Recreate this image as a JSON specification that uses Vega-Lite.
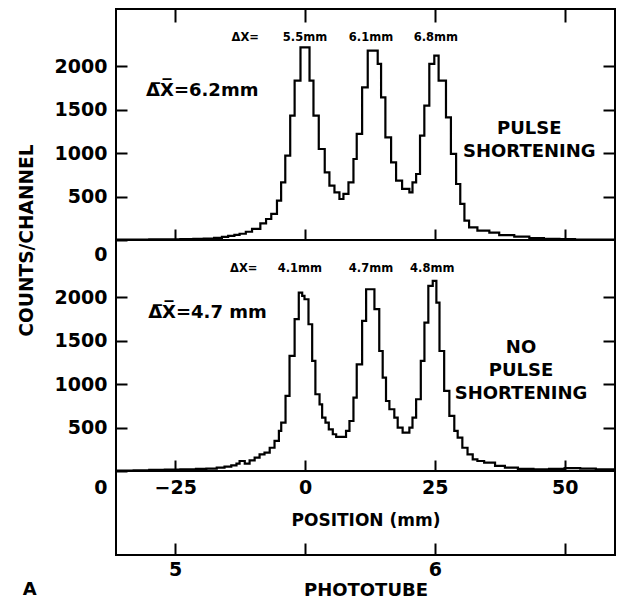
{
  "$schema": "https://vega.github.io/schema/vega-lite/v6.json",
  "background": "white",
  "padding": {"left": 16, "top": 7, "right": 0, "bottom": 0},
  "config": {
    "font": "DejaVu Sans",
    "view": {"stroke": "black", "strokeWidth": 2},
    "axis": {"domain": false, "ticks": true, "tickOpacity": 1, "zindex": 1, "tickColor": "black", "tickWidth": 2, "labelColor": "black", "labelFont": "DejaVu Sans", "labelFontWeight": "bold", "labelFontSize": 19, "titleFont": "DejaVu Sans", "titleFontWeight": "bold", "titleColor": "black", "grid": false},
    "text": {"font": "DejaVu Sans", "fontWeight": "bold", "color": "black"}
  },
  "datasets": {
    "upper": [
      {"mm": -36.4, "c": 4}, {"mm": -33, "c": 5}, {"mm": -30, "c": 7}, {"mm": -27, "c": 8}, {"mm": -24, "c": 10}, {"mm": -21.5, "c": 13}, {"mm": -19.5, "c": 17}, {"mm": -17.5, "c": 25}, {"mm": -16, "c": 35}, {"mm": -14.8, "c": 48}, {"mm": -13.6, "c": 60}, {"mm": -12.6, "c": 72}, {"mm": -11.4, "c": 95}, {"mm": -10.2, "c": 127}, {"mm": -8.6, "c": 191}, {"mm": -7.5, "c": 242}, {"mm": -6.5, "c": 300}, {"mm": -5.4, "c": 453}, {"mm": -4.6, "c": 664}, {"mm": -3.8, "c": 971}, {"mm": -2.85, "c": 1432}, {"mm": -2.0, "c": 1835}, {"mm": -0.87, "c": 2219}, {"mm": 0.87, "c": 1835}, {"mm": 1.63, "c": 1432}, {"mm": 2.65, "c": 1048}, {"mm": 3.8, "c": 779}, {"mm": 4.7, "c": 626}, {"mm": 5.67, "c": 549}, {"mm": 6.63, "c": 472}, {"mm": 7.4, "c": 530}, {"mm": 8.37, "c": 664}, {"mm": 9.33, "c": 933}, {"mm": 9.96, "c": 1221}, {"mm": 11.0, "c": 1758}, {"mm": 12.08, "c": 2181}, {"mm": 14.0, "c": 2028}, {"mm": 14.65, "c": 1643}, {"mm": 15.48, "c": 1182}, {"mm": 16.58, "c": 894}, {"mm": 17.54, "c": 683}, {"mm": 18.7, "c": 588}, {"mm": 20.1, "c": 549}, {"mm": 20.7, "c": 664}, {"mm": 21.4, "c": 760}, {"mm": 22.15, "c": 1201}, {"mm": 22.98, "c": 1547}, {"mm": 23.94, "c": 2028}, {"mm": 24.9, "c": 2123}, {"mm": 25.73, "c": 1835}, {"mm": 27.15, "c": 1412}, {"mm": 28.1, "c": 991}, {"mm": 29.1, "c": 645}, {"mm": 29.9, "c": 415}, {"mm": 30.7, "c": 222}, {"mm": 31.6, "c": 145}, {"mm": 33.2, "c": 107}, {"mm": 35.5, "c": 84}, {"mm": 37.4, "c": 55}, {"mm": 40.3, "c": 38}, {"mm": 43.2, "c": 21}, {"mm": 46, "c": 13}, {"mm": 49, "c": 9}, {"mm": 52, "c": 6}, {"mm": 56, "c": 4}, {"mm": 59.7, "c": 4}
    ],
    "lower": [
      {"mm": -36.4, "c": 5}, {"mm": -33, "c": 8}, {"mm": -30, "c": 12}, {"mm": -27, "c": 16}, {"mm": -24, "c": 20}, {"mm": -21, "c": 24}, {"mm": -19, "c": 28}, {"mm": -17, "c": 38}, {"mm": -15.5, "c": 50}, {"mm": -14.2, "c": 65}, {"mm": -13.2, "c": 85}, {"mm": -12.6, "c": 115}, {"mm": -11.6, "c": 84}, {"mm": -10.67, "c": 123}, {"mm": -9.7, "c": 153}, {"mm": -8.75, "c": 192}, {"mm": -7.8, "c": 211}, {"mm": -6.8, "c": 268}, {"mm": -5.87, "c": 346}, {"mm": -5.03, "c": 461}, {"mm": -4.58, "c": 556}, {"mm": -3.75, "c": 864}, {"mm": -2.98, "c": 1325}, {"mm": -2.0, "c": 1748}, {"mm": -1.2, "c": 2054}, {"mm": -0.54, "c": 2016}, {"mm": -0.1, "c": 1978}, {"mm": 0.67, "c": 1690}, {"mm": 1.38, "c": 1267}, {"mm": 2.0, "c": 884}, {"mm": 2.8, "c": 768}, {"mm": 3.3, "c": 614}, {"mm": 3.94, "c": 556}, {"mm": 4.58, "c": 480}, {"mm": 5.35, "c": 423}, {"mm": 6.0, "c": 392}, {"mm": 7.9, "c": 461}, {"mm": 8.56, "c": 576}, {"mm": 9.33, "c": 844}, {"mm": 9.96, "c": 1228}, {"mm": 11.0, "c": 1728}, {"mm": 11.77, "c": 2093}, {"mm": 13.37, "c": 1863}, {"mm": 14.3, "c": 1382}, {"mm": 14.96, "c": 1075}, {"mm": 15.6, "c": 806}, {"mm": 16.25, "c": 711}, {"mm": 17.2, "c": 614}, {"mm": 17.85, "c": 499}, {"mm": 18.8, "c": 441}, {"mm": 20.1, "c": 499}, {"mm": 20.7, "c": 614}, {"mm": 21.4, "c": 826}, {"mm": 22.3, "c": 1267}, {"mm": 23.0, "c": 1709}, {"mm": 23.75, "c": 2131}, {"mm": 24.6, "c": 2189}, {"mm": 25.3, "c": 1939}, {"mm": 25.9, "c": 1382}, {"mm": 26.8, "c": 922}, {"mm": 27.8, "c": 634}, {"mm": 28.75, "c": 461}, {"mm": 29.4, "c": 384}, {"mm": 30.3, "c": 268}, {"mm": 31.3, "c": 192}, {"mm": 32.3, "c": 135}, {"mm": 33.2, "c": 115}, {"mm": 34.5, "c": 96}, {"mm": 36.6, "c": 60}, {"mm": 38.5, "c": 40}, {"mm": 41, "c": 25}, {"mm": 44, "c": 19}, {"mm": 47, "c": 25}, {"mm": 50, "c": 32}, {"mm": 53, "c": 28}, {"mm": 56, "c": 20}, {"mm": 59.7, "c": 20}
    ],
    "upperSmall": [
      {"mm": -11.5, "c": 2330, "t": "ΔX="}, {"mm": 0, "c": 2330, "t": "5.5mm"}, {"mm": 12.7, "c": 2330, "t": "6.1mm"}, {"mm": 25.2, "c": 2330, "t": "6.8mm"}
    ],
    "lowerSmall": [
      {"mm": -11.8, "c": 2324, "t": "ΔX="}, {"mm": -1, "c": 2324, "t": "4.1mm"}, {"mm": 12.7, "c": 2324, "t": "4.7mm"}, {"mm": 24.5, "c": 2324, "t": "4.8mm"}
    ],
    "upperBig": [{"mm": -30.6, "c": 1720, "t": "Δ̅X̅=6.2mm"}],
    "lowerBig": [{"mm": -30.2, "c": 1824, "t": "Δ̅X̅=4.7 mm"}],
    "upperLabel": [{"mm": 43.2, "c": 1276, "t": "PULSE\nSHORTENING"}],
    "lowerLabel": [{"mm": 41.6, "c": 1417, "t": "NO\nPULSE\nSHORTENING"}],
    "tubes": [{"mm": -25, "v": 0.5, "tube": "5"}, {"mm": 25, "v": 0.5, "tube": "6"}],
    "panelTag": [{"mm": -53, "v": -0.42, "t": "A"}]
  },
  "spacing": 0,
  "bounds": "flush",
  "resolve": {"scale": {"x": "independent", "y": "independent"}},
  "vconcat": [
    {
      "width": 499, "height": 231,
      "resolve": {"axis": {"x": "independent", "y": "independent"}},
      "layer": [
        {
          "data": {"name": "upper"},
          "mark": {"type": "line", "interpolate": "step-after", "color": "black", "strokeWidth": 2.2},
          "encoding": {
            "x": {"field": "mm", "type": "quantitative", "scale": {"domain": [-36.4, 59.7], "nice": false, "zero": false},
                  "axis": {"orient": "bottom", "values": [-25, 0, 25, 50], "labels": false, "offset": -11, "tickSize": 11, "title": null}},
            "y": {"field": "c", "type": "quantitative", "scale": {"domain": [0, 2660], "nice": false},
                  "axis": {"orient": "left", "values": [0, 500, 1000, 1500, 2000], "format": "d", "offset": -11, "tickSize": 11, "labelPadding": 9,
                           "labelOffset": {"condition": {"test": "datum.value === 0", "value": 14}, "value": 0},
                           "title": "COUNTS/CHANNEL", "titleAnchor": "start", "titleAlign": "center", "titleFontSize": 18.6, "titlePadding": 18}}
          }
        },
        {
          "data": {"name": "upperSmall"},
          "mark": {"type": "text", "fontSize": 11.5, "align": "center", "baseline": "middle"},
          "encoding": {
            "x": {"field": "mm", "type": "quantitative", "scale": {"domain": [-36.4, 59.7], "nice": false, "zero": false},
                  "axis": {"orient": "top", "values": [-25, 0, 25, 50], "labels": false, "offset": -13, "tickSize": 13, "title": null}},
            "y": {"field": "c", "type": "quantitative", "scale": {"domain": [0, 2660], "nice": false},
                  "axis": {"orient": "right", "values": [500, 1000, 1500, 2000], "labels": false, "offset": -12, "tickSize": 12, "title": null}},
            "text": {"field": "t"}
          }
        },
        {
          "data": {"name": "upperBig"},
          "mark": {"type": "text", "fontSize": 18, "align": "left", "baseline": "middle"},
          "encoding": {
            "x": {"field": "mm", "type": "quantitative", "scale": {"domain": [-36.4, 59.7], "nice": false, "zero": false}, "axis": null},
            "y": {"field": "c", "type": "quantitative", "scale": {"domain": [0, 2660], "nice": false}, "axis": null},
            "text": {"field": "t"}
          }
        },
        {
          "data": {"name": "upperLabel"},
          "mark": {"type": "text", "fontSize": 18, "align": "center", "baseline": "middle", "lineBreak": "\n", "lineHeight": 23},
          "encoding": {
            "x": {"field": "mm", "type": "quantitative", "scale": {"domain": [-36.4, 59.7], "nice": false, "zero": false}, "axis": null},
            "y": {"field": "c", "type": "quantitative", "scale": {"domain": [0, 2660], "nice": false}, "axis": null},
            "text": {"field": "t"}
          }
        }
      ]
    },
    {
      "width": 499, "height": 231,
      "resolve": {"axis": {"x": "independent", "y": "independent"}},
      "layer": [
        {
          "data": {"name": "lower"},
          "mark": {"type": "line", "interpolate": "step-after", "color": "black", "strokeWidth": 2.2},
          "encoding": {
            "x": {"field": "mm", "type": "quantitative", "scale": {"domain": [-36.4, 59.7], "nice": false, "zero": false},
                  "axis": {"orient": "bottom", "values": [-25, 0, 25, 50], "offset": -11, "tickSize": 11, "labelPadding": 7, "title": "POSITION (mm)", "titleFontSize": 17, "titlePadding": 15}},
            "y": {"field": "c", "type": "quantitative", "scale": {"domain": [0, 2660], "nice": false},
                  "axis": {"orient": "left", "values": [0, 500, 1000, 1500, 2000], "format": "d", "offset": -11, "tickSize": 11, "labelPadding": 9,
                           "labelOffset": {"condition": {"test": "datum.value === 0", "value": 16}, "value": 0},
                           "title": null}}
          }
        },
        {
          "data": {"name": "lowerSmall"},
          "mark": {"type": "text", "fontSize": 11.5, "align": "center", "baseline": "middle"},
          "encoding": {
            "x": {"field": "mm", "type": "quantitative", "scale": {"domain": [-36.4, 59.7], "nice": false, "zero": false}, "axis": null},
            "y": {"field": "c", "type": "quantitative", "scale": {"domain": [0, 2660], "nice": false},
                  "axis": {"orient": "right", "values": [500, 1000, 1500, 2000], "labels": false, "offset": -12, "tickSize": 12, "title": null}},
            "text": {"field": "t"}
          }
        },
        {
          "data": {"name": "lowerBig"},
          "mark": {"type": "text", "fontSize": 18, "align": "left", "baseline": "middle"},
          "encoding": {
            "x": {"field": "mm", "type": "quantitative", "scale": {"domain": [-36.4, 59.7], "nice": false, "zero": false}, "axis": null},
            "y": {"field": "c", "type": "quantitative", "scale": {"domain": [0, 2660], "nice": false}, "axis": null},
            "text": {"field": "t"}
          }
        },
        {
          "data": {"name": "lowerLabel"},
          "mark": {"type": "text", "fontSize": 18, "align": "center", "baseline": "middle", "lineBreak": "\n", "lineHeight": 23},
          "encoding": {
            "x": {"field": "mm", "type": "quantitative", "scale": {"domain": [-36.4, 59.7], "nice": false, "zero": false}, "axis": null},
            "y": {"field": "c", "type": "quantitative", "scale": {"domain": [0, 2660], "nice": false}, "axis": null},
            "text": {"field": "t"}
          }
        }
      ]
    },
    {
      "width": 499, "height": 84,
      "layer": [
        {
          "data": {"name": "tubes"},
          "mark": {"type": "point", "opacity": 0},
          "encoding": {
            "x": {"field": "mm", "type": "quantitative", "scale": {"domain": [-36.4, 59.7], "nice": false, "zero": false},
                  "axis": {"orient": "bottom", "values": [-25, 0, 25, 50], "offset": -12, "tickSize": 12, "labelPadding": 5,
                           "labelExpr": "datum.value === -25 ? '5' : datum.value === 25 ? '6' : ''",
                           "title": "PHOTOTUBE", "titleFontSize": 18, "titlePadding": 2}},
            "y": {"field": "v", "type": "quantitative", "scale": {"domain": [0, 1], "nice": false}, "axis": null}
          }
        },
        {
          "data": {"name": "panelTag"},
          "mark": {"type": "text", "fontSize": 18, "fontWeight": 900, "align": "center", "baseline": "middle"},
          "encoding": {
            "x": {"field": "mm", "type": "quantitative", "scale": {"domain": [-36.4, 59.7], "nice": false, "zero": false}},
            "y": {"field": "v", "type": "quantitative", "scale": {"domain": [0, 1], "nice": false}},
            "text": {"field": "t"}
          }
        }
      ]
    }
  ]
}
